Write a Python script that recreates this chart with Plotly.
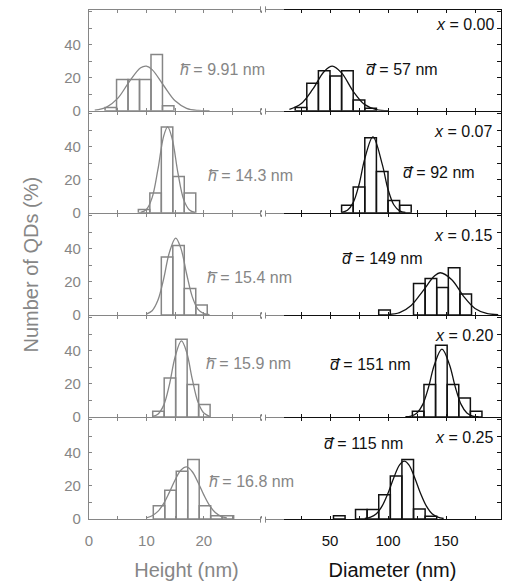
import plotly.graph_objects as go

# ---------------- data ----------------
samples = ["0.00", "0.07", "0.15", "0.20", "0.25"]
mean_height = ["9.91", "14.3", "15.4", "15.9", "16.8"]
mean_diameter = ["57", "92", "149", "151", "115"]

# height histograms (bin centres in nm, % of QDs)
h_bins_000 = [3.8, 5.8, 7.8, 9.8, 11.8, 13.8]
h_vals_000 = [2, 19, 19, 19, 34, 3]
h_bins_007 = [9.6, 11.6, 13.6, 15.6, 17.6]
h_vals_007 = [2, 12, 52, 22, 12]
h_bins_015 = [13.6, 15.6, 17.6, 19.6]
h_vals_015 = [35, 42, 16, 6]
h_bins_020 = [12.1, 14.1, 16.1, 18.1, 20.1]
h_vals_020 = [3.4, 23.6, 47, 19.6, 7.5]
h_bins_025 = [12.2, 14.2, 16.2, 18.2, 20.2, 22.2, 24.2]
h_vals_025 = [8, 17.4, 28.9, 36, 8, 2, 2]

# diameter histograms (bin centres in nm, % of QDs)
d_bins_000 = [25, 35, 45, 55, 65, 75, 85]
d_vals_000 = [2, 16.6, 24.2, 21, 24.2, 6.5, 1.5]
d_bins_007 = [65, 75, 85, 95, 105, 115]
d_vals_007 = [4.6, 15.6, 45.5, 25, 7.5, 4.6]
d_bins_015 = [97, 127, 137, 147, 157, 167]
d_vals_015 = [3, 19, 22, 16.6, 28.5, 12.6]
d_bins_020 = [126, 136, 146, 156, 166, 176]
d_vals_020 = [3.4, 19.6, 43.4, 19.6, 11.5, 3.4]
d_bins_025 = [58, 77, 87, 97, 107, 117, 127, 137]
d_vals_025 = [2, 5.7, 5.7, 14.7, 26, 36, 6, 1.6]

# fitted curves, points
hc_x_000 = [1, 3, 5, 7, 9, 10, 11, 13, 15, 17, 19, 21]
hc_y_000 = [0.4, 2.1, 7.5, 17.5, 26.0, 27.0, 24.9, 15.3, 6.0, 1.5, 0.2, 0]
hc_x_007 = [9, 10, 11, 12, 13, 13.7, 14.5, 15.5, 16.5, 17.5, 18.5]
hc_y_007 = [0.3, 2.0, 9.2, 26.1, 46.3, 52, 44.7, 24.0, 8.0, 1.7, 0.2]
hc_x_015 = [10, 11, 12, 13, 14, 15.1, 16, 17, 18, 19, 20, 21]
hc_y_015 = [0.5, 2.5, 8.8, 21.7, 37.7, 46.5, 40.4, 24.9, 10.9, 3.3, 0.7, 0.1]
hc_x_020 = [11, 12, 13, 14, 15, 16.1, 17, 18, 19, 20, 21]
hc_y_020 = [0.3, 1.7, 7.0, 19.4, 36.3, 46, 39.3, 22.7, 8.9, 2.4, 0.4]
hc_x_025 = [10, 11, 12, 13, 14, 15, 16, 17, 18, 19, 20, 21, 22, 23, 24]
hc_y_025 = [0.7, 2.0, 4.6, 9.3, 16.1, 23.6, 29.5, 31.5, 28.6, 22.1, 14.6, 8.2, 3.9, 1.6, 0.6]

dc_x_000 = [15, 25, 35, 45, 52, 60, 70, 80, 90, 100]
dc_y_000 = [0.8, 4.2, 12.9, 23.8, 27, 22.9, 11.8, 3.7, 0.7, 0.1]
dc_x_007 = [60, 65, 70, 75, 80, 87, 95, 100, 105, 110, 115]
dc_y_007 = [0.3, 1.6, 6.2, 17.0, 32.8, 46, 29.5, 14.3, 4.9, 1.2, 0.2]
dc_x_015 = [100, 110, 120, 130, 140, 145, 155, 165, 175, 185, 195]
dc_y_015 = [0.2, 1.4, 5.7, 14.4, 23.5, 25.5, 21.3, 11.4, 3.9, 0.9, 0.1]
dc_x_020 = [115, 120, 125, 130, 135, 140, 146.5, 153, 158, 163, 168, 173, 178]
dc_y_020 = [0.1, 0.5, 2.4, 7.6, 18.1, 31.6, 41, 31.6, 18.1, 7.6, 2.4, 0.5, 0.1]
dc_x_025 = [80, 85, 90, 95, 100, 105, 110, 114, 118, 123, 128, 133, 138, 143, 148]
dc_y_025 = [0.3, 1.1, 3.2, 7.9, 15.6, 25.0, 32.8, 35, 32.8, 25.0, 15.6, 7.9, 3.2, 1.1, 0.3]

height_ticks = [0, 5, 10, 15, 20, 25, 30]
height_ticktext = ["0", "", "10", "", "20", "", ""]
diam_ticks = [25, 50, 75, 100, 125, 150, 175]
diam_ticktext = ["", "50", "", "100", "", "150", ""]
count_ticks = [0, 10, 20, 30, 40, 50, 60]
count_ticktext = ["0", "", "20", "", "40", "", ""]

# ---------------- styling / layout ----------------
W, H = 505, 586
ML, MR, MT, MB = 89, 4, 10, 67
PW, PH = W - ML - MR, H - MT - MB
SPLIT_PX = 284          # where the grey (height) frame turns black (diameter)
BREAK_PX = 263          # axis-break mark on the grey frame
SPLIT = (SPLIT_PX - ML) / PW
GRAY = "#868686"
BLACK = "#111111"
FONT = "Liberation Sans, Arial, sans-serif"
NROW = 5
LW = 1.3
GAP = LW / PH           # rows separated by one line width so shared lines coincide
ROWH = (1 - GAP * (NROW - 1)) / NROW
H_PER_PX = 1 / 5.74     # nm per pixel for height scale
D_PER_PX = 1 / 1.16     # nm per pixel for diameter scale

h_bins = [h_bins_000, h_bins_007, h_bins_015, h_bins_020, h_bins_025]
h_vals = [h_vals_000, h_vals_007, h_vals_015, h_vals_020, h_vals_025]
d_bins = [d_bins_000, d_bins_007, d_bins_015, d_bins_020, d_bins_025]
d_vals = [d_vals_000, d_vals_007, d_vals_015, d_vals_020, d_vals_025]
hc_x = [hc_x_000, hc_x_007, hc_x_015, hc_x_020, hc_x_025]
hc_y = [hc_y_000, hc_y_007, hc_y_015, hc_y_020, hc_y_025]
dc_x = [dc_x_000, dc_x_007, dc_x_015, dc_x_020, dc_x_025]
dc_y = [dc_y_000, dc_y_007, dc_y_015, dc_y_020, dc_y_025]

h_range = [0, (SPLIT_PX - ML) * H_PER_PX]
d_range = [50 - (330 - SPLIT_PX) * D_PER_PX, 50 + (W - MR - 330) * D_PER_PX]

# text placement in pixels (left x / right x, centre y)
h_text_px = [(178, 69), (206, 175), (205, 277), (204, 363), (207, 481)]
d_text_px = [(364, 69), (401, 172), (340, 258), (328, 364), (322, 443)]
x_text_px = [(496, 25), (494, 131), (494, 235), (495, 335), (495, 437)]


def px2paper(px, py):
    return (px - ML) / PW, (H - MB - py) / PH


fig = go.Figure()
layout = {}
annotations = []
shapes = []
sx = lambda i: "" if i == 1 else str(i)

for r in range(NROW):
    ih, idd = 2 * r + 1, 2 * r + 2
    xh, xd = "x" + sx(ih), "x" + sx(idd)
    yh, yd = "y" + sx(ih), "y" + sx(idd)
    top = min(1.0, max(0.0, 1 - r * (ROWH + GAP)))
    bot = 0.0 if r == NROW - 1 else min(1.0, max(0.0, top - ROWH))
    last = r == NROW - 1

    fig.add_trace(go.Bar(x=h_bins[r], y=h_vals[r], width=2, xaxis=xh, yaxis=yh,
                         marker=dict(color="rgba(0,0,0,0)", line=dict(color=GRAY, width=1.5)),
                         showlegend=False, hoverinfo="skip"))
    fig.add_trace(go.Scatter(x=hc_x[r], y=hc_y[r], mode="lines", line=dict(color=GRAY, width=1.3, shape="spline"),
                             xaxis=xh, yaxis=yh, showlegend=False, hoverinfo="skip"))
    fig.add_trace(go.Bar(x=d_bins[r], y=d_vals[r], width=10, xaxis=xd, yaxis=yd,
                         marker=dict(color="rgba(0,0,0,0)", line=dict(color=BLACK, width=1.5)),
                         showlegend=False, hoverinfo="skip"))
    fig.add_trace(go.Scatter(x=dc_x[r], y=dc_y[r], mode="lines", line=dict(color=BLACK, width=1.3, shape="spline"),
                             xaxis=xd, yaxis=yd, showlegend=False, hoverinfo="skip"))

    common_x = dict(showgrid=False, zeroline=False, showline=True, mirror="ticks",
                    ticks="inside", ticklen=3, tickwidth=1, linewidth=LW,
                    ticklabelstandoff=8, showticklabels=last, fixedrange=True)
    layout["xaxis" + sx(ih)] = dict(common_x, domain=[0, SPLIT], anchor=yh, range=h_range,
                                    linecolor=GRAY, tickcolor=GRAY,
                                    tickvals=height_ticks, ticktext=height_ticktext,
                                    tickfont=dict(family=FONT, size=15, color=GRAY),
                                    title=dict(text="Height (nm)" if last else "",
                                               font=dict(family=FONT, size=20, color=GRAY), standoff=14))
    layout["xaxis" + sx(idd)] = dict(common_x, domain=[SPLIT, 1], anchor=yd, range=d_range,
                                     linecolor=BLACK, tickcolor=BLACK,
                                     tickvals=diam_ticks, ticktext=diam_ticktext,
                                     tickfont=dict(family=FONT, size=15, color=BLACK),
                                     title=dict(text="Diameter (nm)" if last else "",
                                                font=dict(family=FONT, size=20, color=BLACK), standoff=14))
    layout["yaxis" + sx(ih)] = dict(domain=[bot, top], anchor=xh, range=[0, 61], showgrid=False,
                                    zeroline=False, showline=True, linecolor=GRAY, linewidth=LW,
                                    ticks="inside", ticklen=3, tickcolor=GRAY,
                                    tickvals=count_ticks, ticktext=count_ticktext, ticklabelstandoff=4,
                                    tickfont=dict(family=FONT, size=15, color=GRAY), fixedrange=True)
    layout["yaxis" + sx(idd)] = dict(domain=[bot, top], anchor=xd, side="right", range=[0, 61],
                                     showgrid=False, zeroline=False, showline=True, linecolor=BLACK,
                                     linewidth=LW, ticks="inside", ticklen=4, tickcolor=BLACK,
                                     tickvals=count_ticks, showticklabels=False, fixedrange=True)

    # texts
    hx, hy = px2paper(*h_text_px[r])
    annotations.append(dict(x=hx, y=hy, xref="paper", yref="paper", xanchor="left", yanchor="middle",
                            showarrow=False, text="<i>h\u0305</i> = " + mean_height[r] + " nm",
                            font=dict(family=FONT, size=16, color=GRAY)))
    dx, dy = px2paper(*d_text_px[r])
    annotations.append(dict(x=dx, y=dy, xref="paper", yref="paper", xanchor="left", yanchor="middle",
                            showarrow=False, text="<i>d\u0305</i> = " + mean_diameter[r] + " nm",
                            font=dict(family=FONT, size=16, color=BLACK)))
    tx, ty = px2paper(*x_text_px[r])
    annotations.append(dict(x=tx, y=ty, xref="paper", yref="paper", xanchor="right", yanchor="middle",
                            showarrow=False, text="<i>x</i> = " + samples[r],
                            font=dict(family=FONT, size=16, color=BLACK)))

# axis-break marks on every horizontal frame line (grey part)
bx = (BREAK_PX - ML) / PW
for k in range(NROW + 1):
    if k == 0:
        yk = 1 + (LW / 2) / PH
    elif k == NROW:
        yk = -(LW / 2) / PH
    else:
        yk = 1 - k * (ROWH + GAP) + GAP / 2
    shapes.append(dict(type="rect", xref="paper", yref="paper", x0=bx - 2.5 / PW, x1=bx + 2.5 / PW,
                       y0=yk - 1.2 / PH, y1=yk + 1.2 / PH, line=dict(width=0), fillcolor="white"))
    for dxo in (-2.5, 2.5):
        shapes.append(dict(type="line", xref="paper", yref="paper", x0=bx + dxo / PW, x1=bx + dxo / PW,
                           y0=yk - 3 / PH, y1=yk + 3 / PH, line=dict(color=GRAY, width=1)))

annotations.append(dict(x=(30 - ML) / PW, y=0.5, xref="paper", yref="paper", textangle=-90, showarrow=False,
                        text="Number of QDs (%)", font=dict(family=FONT, size=20, color=GRAY),
                        xanchor="center", yanchor="middle"))

fig.update_layout(width=W, height=H, margin=dict(l=ML, r=MR, t=MT, b=MB, autoexpand=False),
                  paper_bgcolor="white", plot_bgcolor="white", barmode="overlay",
                  annotations=annotations, shapes=shapes, **layout)

fig.write_html("out.html")
